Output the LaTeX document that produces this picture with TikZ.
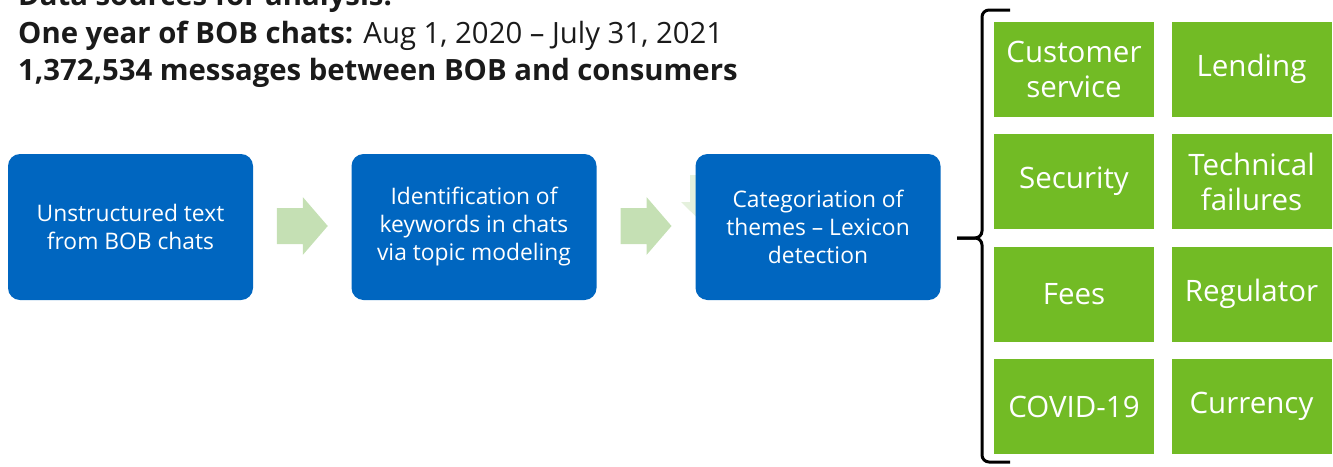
\documentclass[tikz,border=0pt]{standalone}
\usepackage{fontspec}
\setmainfont{Open Sans}
\usetikzlibrary{calc}
\definecolor{boxblue}{HTML}{0066C0}
\definecolor{arrowgreen}{HTML}{C5E0B4}
\definecolor{catgreen}{HTML}{72BB25}
\definecolor{headtext}{HTML}{1A1A1A}
\tikzset{
  headline/.style={anchor=base west, inner sep=0pt, text=headtext, font=\fontsize{29.3}{35}\selectfont},
  stepbox/.style={draw=none, fill=boxblue, rounded corners=12pt, minimum width=245pt, minimum height=146pt,
    inner sep=0pt, text=white, align=center, font=\fontsize{22.8}{28}\selectfont},
  catbox/.style={draw=none, fill=catgreen, minimum width=160pt, minimum height=95pt,
    inner sep=0pt, text=white, align=center, font=\fontsize{29.5}{35}\selectfont},
  flowarrow/.style={fill=arrowgreen, draw=none},
  bracket/.style={draw=black, line width=3pt, rounded corners=7pt}
}
\begin{document}
\begin{tikzpicture}[x=1pt,y=-1pt]
\useasboundingbox (0,0) rectangle (1333,466);
% header
\node[headline] (t0) at (18,5) {\bfseries Data sources for analysis:};
\node[headline] (t1) at (18,43) {\bfseries One year of BOB chats: \mdseries Aug 1, 2020 – July 31, 2021};
\node[headline] (t2) at (18,80) {\bfseries 1,372,534 messages between BOB and consumers};
% faint arrow behind third box
\fill[arrowgreen!45!white] (690,175) -- (720,175) -- (720,240) -- (681,202) -- (690,202) -- cycle;
% process boxes
\node[stepbox] (b1) at (130.5,227) {Unstructured text\\from BOB chats};
\node[stepbox] (b2) at (474,227) {Identification of\\keywords in chats\\via topic modeling};
\node[stepbox] (b3) at (818,227) {Categoriation of\\themes – Lexicon\\detection};
% arrows
\coordinate (a1) at ($(b1.east)!0.5!(b2.west)+(0,-1)$);
\coordinate (a2) at ($(b2.east)!0.5!(b3.west)+(0,-1)$);
\foreach \a in {a1,a2}{
  \fill[flowarrow, shift={(\a)}] (-25.5,-18) -- (0.5,-18) -- (0.5,-29) -- (25.5,0) -- (0.5,29) -- (0.5,18) -- (-25.5,18) -- cycle;
}
% bracket
\coordinate (bt) at (1010,10);
\coordinate (bm) at (957,238);
\coordinate (bb) at (1010,462);
\draw[bracket] (bt) -- (982,10) -- (982,238) -- (bm);
\draw[bracket] (bm) -- (982,238) -- (982,462) -- (bb);
% categories
\node[catbox] (c1) at (1074,69) {Customer\\service};
\node[catbox] (c2) at (1251.5,69) {Lending};
\node[catbox] (c3) at (1074,181.5) {Security};
\node[catbox] (c4) at (1251.5,181.5) {Technical\\failures};
\node[catbox] (c5) at (1074,294) {Fees};
\node[catbox] (c6) at (1251.5,294) {Regulator};
\node[catbox] (c7) at (1074,406.5) {COVID-19};
\node[catbox] (c8) at (1251.5,406.5) {Currency};
\end{tikzpicture}
\end{document}
